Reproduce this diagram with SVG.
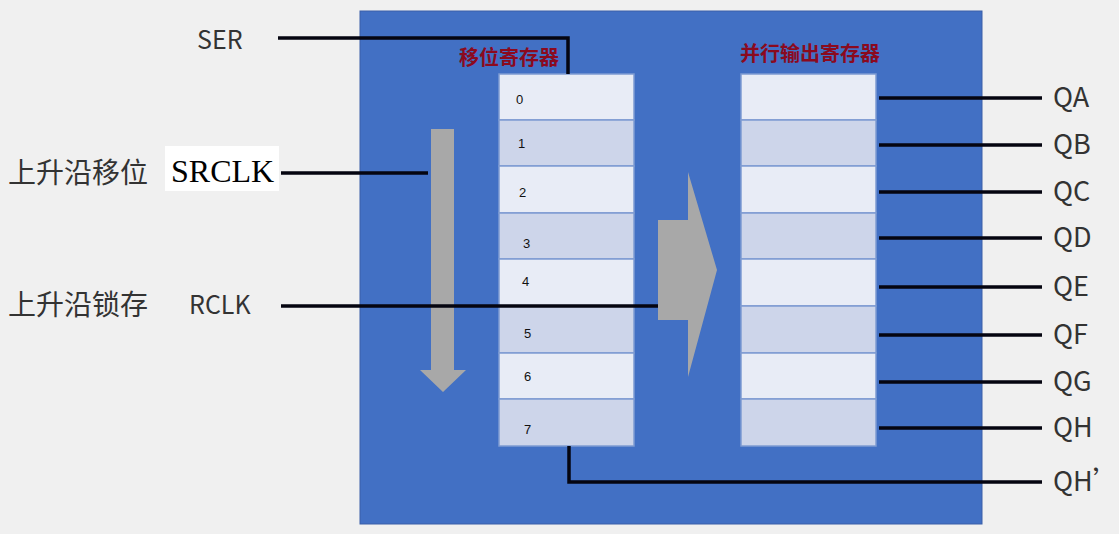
<svg xmlns="http://www.w3.org/2000/svg" width="1119" height="534" viewBox="0 0 1119 534">
<style>
.lbl{font-family:"Noto Sans CJK SC","Liberation Sans",sans-serif;font-size:25px;fill:#333}
.q{font-family:"Noto Sans CJK SC","Liberation Sans",sans-serif;font-size:27px;fill:#333}
.cjk{font-family:"Noto Sans CJK SC",sans-serif;font-size:28px;fill:#333}
.title{font-family:"Noto Sans CJK SC",serif;font-size:20px;font-weight:bold;fill:#8B0A1E}
.num{font-family:"Liberation Sans",sans-serif;font-size:13px;fill:#111}
.c1{fill:#E8ECF6;stroke:#7E9BD2;stroke-width:1.5}
.c2{fill:#CDD5EA;stroke:#7E9BD2;stroke-width:1.5}
.w{stroke:#050510;stroke-width:3.5;fill:none}
</style>
<rect x="0" y="0" width="1119" height="534" fill="#F0F0F0"/>
<rect id="chip" x="360" y="11" width="622" height="513" fill="#4270C4" stroke="#3A5FA8" stroke-width="1"/>
<g id="shift-arrow"><polygon points="431,129 454,129 454,370 466,370 443,392 420,370 431,370" fill="#A8A8A8"/></g>
<g id="latch-arrow"><polygon points="658,220 688,220 688,172 717,270 688,377 688,320 658,320" fill="#A8A8A8"/></g>
<g id="shift-register">
<text class="title" x="459" y="65">移位寄存器</text>
<rect class="c1" x="499" y="74" width="135" height="46"/>
<rect class="c2" x="499" y="120" width="135" height="46"/>
<rect class="c1" x="499" y="166" width="135" height="47"/>
<rect class="c2" x="499" y="213" width="135" height="46"/>
<rect class="c1" x="499" y="259" width="135" height="47"/>
<rect class="c2" x="499" y="306" width="135" height="47"/>
<rect class="c1" x="499" y="353" width="135" height="46"/>
<rect class="c2" x="499" y="399" width="135" height="47"/>
<text class="num" x="516" y="104">0</text>
<text class="num" x="518" y="148">1</text>
<text class="num" x="519" y="197">2</text>
<text class="num" x="523" y="248">3</text>
<text class="num" x="522" y="286">4</text>
<text class="num" x="524" y="338">5</text>
<text class="num" x="524" y="381">6</text>
<text class="num" x="524" y="434">7</text>
</g>
<g id="output-register">
<text class="title" x="740" y="61">并行输出寄存器</text>
<rect class="c1" x="741" y="74" width="135" height="46"/>
<rect class="c2" x="741" y="120" width="135" height="46"/>
<rect class="c1" x="741" y="166" width="135" height="47"/>
<rect class="c2" x="741" y="213" width="135" height="46"/>
<rect class="c1" x="741" y="259" width="135" height="47"/>
<rect class="c2" x="741" y="306" width="135" height="47"/>
<rect class="c1" x="741" y="353" width="135" height="46"/>
<rect class="c2" x="741" y="399" width="135" height="47"/>
</g>
<g id="connectors">
<polyline class="w" points="278,38 568,38 568,74"/>
<line class="w" x1="281" y1="173" x2="428" y2="173"/>
<line class="w" x1="281" y1="306" x2="658" y2="306"/>
<polyline class="w" points="569,446 569,482 1042,482"/>
<line class="w" x1="879" y1="98" x2="1042" y2="98"/>
<line class="w" x1="879" y1="145" x2="1042" y2="145"/>
<line class="w" x1="879" y1="192" x2="1042" y2="192"/>
<line class="w" x1="879" y1="238" x2="1042" y2="238"/>
<line class="w" x1="879" y1="287" x2="1042" y2="287"/>
<line class="w" x1="879" y1="335" x2="1042" y2="335"/>
<line class="w" x1="879" y1="382" x2="1042" y2="382"/>
<line class="w" x1="879" y1="428" x2="1042" y2="428"/>
</g>
<g id="inputs">
<text class="lbl" x="197" y="49">SER</text>
<text class="cjk" x="8" y="183">上升沿移位</text>
<rect x="165" y="146" width="114" height="45" fill="#FFFFFF"/>
<text x="171" y="182" font-family="Liberation Serif,serif" font-size="32" fill="#000">SRCLK</text>
<text class="cjk" x="8" y="315">上升沿锁存</text>
<text class="lbl" x="189" y="314">RCLK</text>
</g>
<g id="outputs">
<text class="q" x="1053" y="107">QA</text>
<text class="q" x="1053" y="154">QB</text>
<text class="q" x="1053" y="201">QC</text>
<text class="q" x="1053" y="247">QD</text>
<text class="q" x="1053" y="296">QE</text>
<text class="q" x="1053" y="344">QF</text>
<text class="q" x="1053" y="391">QG</text>
<text class="q" x="1053" y="437">QH</text>
<text class="q" x="1053" y="491">QH’</text>
</g>
</svg>
